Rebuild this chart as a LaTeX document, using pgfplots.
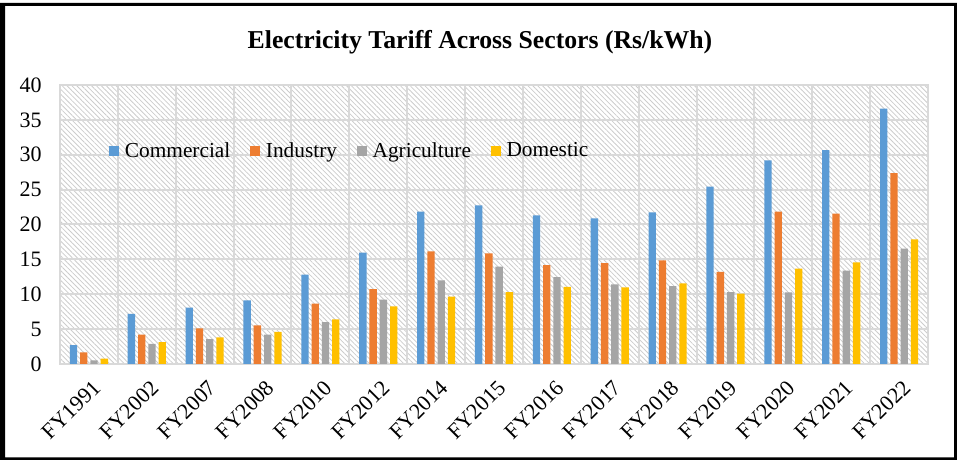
\documentclass[border=0pt]{standalone}
\usepackage{pgfplots}
\pgfplotsset{compat=1.18}
\usepackage{fontspec}
\setmainfont{Liberation Serif}
\usetikzlibrary{patterns.meta}
\definecolor{cCom}{HTML}{5B9BD5}
\definecolor{cInd}{HTML}{ED7D31}
\definecolor{cAgr}{HTML}{A5A5A5}
\definecolor{cDom}{HTML}{FFC000}
\definecolor{gridgray}{HTML}{D9D9D9}
\definecolor{hatch}{HTML}{CCCCCC}
\pgfplotsset{sq/.style={legend image code/.code={\fill[##1] (0pt,-3.6pt) rectangle (7.2pt,3.6pt);}}}
\begin{document}
\begin{tikzpicture}[x=0.75pt,y=0.75pt]
\useasboundingbox (0,0) rectangle (957,460);
\fill[black, even odd rule] (0,0) rectangle (957,457) (5,2.5) rectangle (954,454);
\node[font=\fontsize{19.3}{23}\selectfont\bfseries] at (480,418) {Electricity Tariff Across Sectors (Rs/kWh)};
\begin{axis}[
  at={(45pt,72pt)}, anchor=south west, scale only axis,
  width=651pt, height=209.25pt,
  ybar=2.2pt, bar width=5.5pt,
  xmin=-0.5, xmax=14.5, ymin=0, ymax=40,
  xtick={0,...,14},
  xticklabels={FY1991,FY2002,FY2007,FY2008,FY2010,FY2012,FY2014,FY2015,FY2016,FY2017,FY2018,FY2019,FY2020,FY2021,FY2022},
  minor xtick={-0.5,0.5,...,14.5},
  ytick={0,5,...,40},
  xmajorgrids=false, xminorgrids=true, ymajorgrids=true,
  major grid style={draw=gridgray, line width=1.5pt},
  minor grid style={draw=gridgray, line width=1.5pt},
  axis line style={draw=gridgray, line width=1.5pt},
  major tick length=0pt, minor tick length=0pt,
  tick style={draw=none},
  axis background/.style={pattern={Lines[angle=-45,distance=2.6pt,line width=0.6pt]}, pattern color=hatch},
  /pgf/number format/assume math mode=true,
  yticklabel style={font=\fontsize{16.5}{19}\selectfont, anchor=east, inner sep=0pt, xshift=-13.5pt},
  xticklabel style={font=\fontsize{16.5}{19}\selectfont, xshift=2pt, yshift=-11pt, rotate=45, anchor=north east, inner sep=0pt},
  legend columns=4,
  legend style={draw=none, fill=none, at={(0.0565,0.7645)}, anchor=west, inner sep=0pt,
    font=\fontsize{16}{19}\selectfont, nodes={inner sep=1.5pt},
    /tikz/every odd column/.append style={column sep=3pt},
    /tikz/every even column/.append style={column sep=13.5pt}},
]
\addplot[fill=cCom, draw=none, sq] coordinates {(0,2.72) (1,7.17) (2,8.08) (3,9.13) (4,12.8) (5,15.96) (6,21.84) (7,22.75) (8,21.31) (9,20.88) (10,21.74) (11,25.42) (12,29.2) (13,30.68) (14,36.6)};
\addplot[fill=cInd, draw=none, sq] coordinates {(0,1.67) (1,4.2) (2,5.11) (3,5.54) (4,8.65) (5,10.75) (6,16.15) (7,15.87) (8,14.19) (9,14.48) (10,14.86) (11,13.19) (12,21.84) (13,21.55) (14,27.38)};
\addplot[fill=cAgr, draw=none, sq] coordinates {(0,0.53) (1,2.87) (2,3.58) (3,4.2) (4,6.02) (5,9.22) (6,12.0) (7,13.95) (8,12.47) (9,11.42) (10,11.18) (11,10.32) (12,10.27) (13,13.38) (14,16.54)};
\addplot[fill=cDom, draw=none, sq] coordinates {(0,0.76) (1,3.15) (2,3.82) (3,4.59) (4,6.40) (5,8.27) (6,9.65) (7,10.32) (8,11.04) (9,10.99) (10,11.57) (11,10.08) (12,13.67) (13,14.58) (14,17.87)};
\legend{Commercial,Industry,Agriculture,Domestic}
\end{axis}
\end{tikzpicture}
\end{document}
